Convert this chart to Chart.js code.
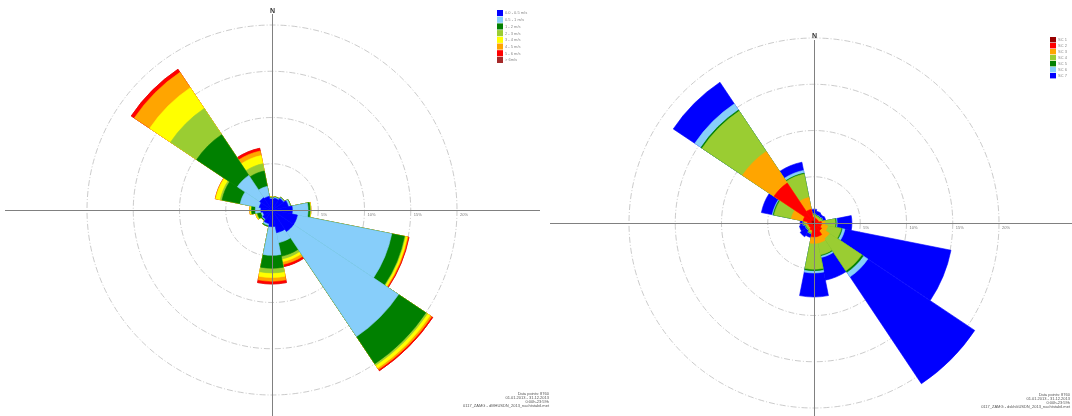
<!DOCTYPE html>
<html>
<head>
<meta charset="utf-8">
<script src="https://cdn.jsdelivr.net/npm/chart.js@4.4.1/dist/chart.umd.min.js"></script>
<style>
  html, body { margin: 0; padding: 0; background: #fff; }
  #wrap { position: relative; width: 1072px; height: 416px; overflow: hidden; }
  .box { position: absolute; top: 0; height: 416px; }
  #left { left: 0; width: 550px; }
  #right { left: 550px; width: 522px; }
</style>
</head>
<body>
<div id="wrap">
  <div class="box" id="left"><canvas id="speedRose"></canvas></div>
  <div class="box" id="right"><canvas id="stabilityRose"></canvas></div>
</div>
<script>
// 16 wind directions, clockwise from north
var directions = ['N','NNE','NE','ENE','E','ESE','SE','SSE','S','SSW','SW','WSW','W','WNW','NW','NNW'];
var ringValues = [5, 10, 15, 20];

// left rose: frequency (%) per wind speed class
var speedLabels = ['0.0 - 0.5 m/s','0.5 - 1 m/s','1 - 2 m/s','2 - 3 m/s','3 - 4 m/s','4 - 5 m/s','5 - 6 m/s','> 6m/s'];
var speedColors = ['#0000ff','#87cefa','#008000','#9acd32','#ffff00','#ffa500','#ff0000','#a52a2a'];
var speed0 = [1.2,1.3,1.5,1.8,2.2,2.8,2.8,2.5,1.8,1.5,1.2,1.0,1.2,1.4,1.6,1.5];
var speed1 = [0.1,0.1,0.1,0.2,1.7,10.4,13.65,1.1,3.1,0.2,0.1,0.2,0.6,2.1,2.9,1.1];
var speed2 = [0.05,0.05,0.05,0.05,0.2,1.4,3.55,1.5,1.4,0.1,0.1,0.4,0.4,2.0,5.3,1.7];
var speed3 = [0.05,0,0,0,0.05,0.1,0.2,0.3,0.5,0,0,0.1,0.05,0.2,3.4,0.8];
var speed4 = [0.05,0,0,0,0.05,0.2,0.35,0.3,0.5,0,0,0.1,0.15,0.5,2.7,0.9];
var speed5 = [0,0,0,0,0,0.1,0.2,0.3,0.4,0,0,0,0,0.05,2.0,0.5];
var speed6 = [0,0,0,0,0,0.1,0.15,0.25,0.3,0,0,0,0,0,0.4,0.3];
var speed7 = [0,0,0,0,0,0,0,0,0,0,0,0,0,0,0,0];

// right rose: frequency (%) per stability class
var classLabels = ['SC 1','SC 2','SC 3','SC 4','SC 5','SC 6','SC 7'];
var classColors = ['#990000','#ff0000','#ffa500','#9acd32','#008000','#87cefa','#0000ff'];
var sc1 = [0.1,0.1,0.1,0.1,0.1,0.1,0.1,0.2,0.2,0.1,0.1,0.1,0.1,0.2,0.3,0.2];
var sc2 = [0.5,0.4,0.4,0.4,0.7,0.7,0.9,1.3,1.3,0.7,0.5,0.5,0.6,1.0,4.9,1.3];
var sc3 = [0.1,0.1,0.1,0.1,0.4,0.7,1.0,0.7,0.7,0.1,0.1,0.1,0.2,1.3,4.1,1.3];
var sc4 = [0.2,0.2,0.2,0.3,1.1,1.5,4.2,1.3,2.8,0.2,0.2,0.2,0.2,1.9,5.25,2.6];
var sc5 = [0.05,0.05,0.05,0.05,0.1,0.1,0.2,0.1,0.15,0.05,0.05,0.05,0.05,0.1,0.15,0.1];
var sc6 = [0.05,0.05,0.05,0.05,0.1,0.3,0.6,0.2,0.25,0.05,0.05,0.05,0.05,0.1,0.8,0.3];
var sc7 = [0.5,0.4,0.3,0.3,1.6,11.7,13.9,2.5,2.6,0.4,0.8,0.6,0.3,1.2,2.8,0.9];

var speedFooter = ['Data points: 8760','01.01.2013 - 31.12.2013','0:00h-23:59h','0117_ZAMG - dMHUSDN_2013_nachtstabil.met'];
var classFooter = ['Data points: 8760','01.01.2013 - 31.12.2013','0:00h-23:59h','0117_ZAMG - dskhikUSDN_2013_nachtstabil.met'];

// stacked rose: every class is drawn as its running total, the inner one on top
function stackedSets(series, colors) {
  var running = directions.map(function() { return 0; });
  return series.map(function(values, k) {
    running = running.map(function(v, i) { return v + values[i]; });
    return {
      data: running.slice(),
      backgroundColor: colors[k],
      borderColor: colors[k],
      borderWidth: 0.6,
      clip: false
    };
  });
}

function roseDecor(o) {
  return {
    id: 'roseDecor',
    afterDatasetsDraw: function(chart) {
      var ctx = chart.ctx, r = chart.scales.r;
      var cx = r.xCenter, cy = r.yCenter;
      ctx.save();
      ctx.strokeStyle = '#808080';
      ctx.lineWidth = 1;
      ctx.beginPath();
      ctx.moveTo(cx - o.axisLeft, cy + 0.5); ctx.lineTo(cx + o.axisRight, cy + 0.5);
      ctx.moveTo(cx + 0.5, cy - o.axisTop); ctx.lineTo(cx + 0.5, cy + 220);
      ctx.stroke();

      ctx.fillStyle = '#333';
      ctx.font = 'bold 7px "Liberation Sans", Arial, sans-serif';
      ctx.textAlign = 'center';
      ctx.textBaseline = 'middle';
      ctx.fillText('N', cx + 0.5, cy - o.nOffset);

      ctx.fillStyle = '#777';
      ctx.font = '4px "Liberation Sans", Arial, sans-serif';
      ctx.textAlign = 'left';
      ctx.textBaseline = 'top';
      ringValues.forEach(function(v) {
        ctx.fillText(v + '%', cx + r.getDistanceFromCenterForValue(v) + 3, cy + 3);
      });

      // legend
      o.legendLabels.forEach(function(lbl, i) {
        var y = o.legendY + i * o.legendStep;
        ctx.fillStyle = o.legendColors[i];
        ctx.fillRect(o.legendX, y, 6, o.legendStep - 0.6);
        ctx.fillStyle = '#888';
        ctx.textBaseline = 'middle';
        ctx.fillText(lbl, o.legendX + 8, y + o.legendStep / 2);
      });

      // footer
      ctx.fillStyle = '#555';
      ctx.textAlign = 'right';
      ctx.textBaseline = 'middle';
      o.footer.forEach(function(line, i) {
        ctx.fillText(line, o.footerX, o.footerY + i * 4);
      });
      ctx.restore();
    }
  };
}

function drawRose(id, series, colors, pad, decor) {
  new Chart(document.getElementById(id), {
    type: 'polarArea',
    data: {
      labels: directions,
      datasets: stackedSets(series, colors)
    },
    options: {
      responsive: true,
      maintainAspectRatio: false,
      animation: false,
      events: [],
      layout: { padding: pad },
      plugins: {
        legend: { display: false },
        tooltip: { enabled: false }
      },
      scales: {
        r: {
          min: 0,
          max: 20,
          startAngle: -11.25,
          ticks: { display: false, stepSize: 5 },
          grid: { circular: true, color: '#b4b4b4', lineWidth: 0.7 },
          border: { dash: [6, 2, 1, 2] },
          angleLines: { display: false },
          pointLabels: { display: false }
        }
      }
    },
    plugins: [roseDecor(decor)]
  });
}

drawRose('speedRose',
  [speed0, speed1, speed2, speed3, speed4, speed5, speed6, speed7], speedColors,
  { left: 87, top: 25, right: 93, bottom: 21 },
  { axisLeft: 267, axisRight: 268, axisTop: 196, nOffset: 199,
    legendLabels: speedLabels, legendColors: speedColors, legendX: 497, legendY: 10, legendStep: 6.7,
    footer: speedFooter, footerX: 549, footerY: 394 });

drawRose('stabilityRose',
  [sc1, sc2, sc3, sc4, sc5, sc6, sc7], classColors,
  { left: 79, top: 38, right: 73, bottom: 8 },
  { axisLeft: 266, axisRight: 260, axisTop: 183, nOffset: 187,
    legendLabels: classLabels, legendColors: classColors, legendX: 500, legendY: 37, legendStep: 6,
    footer: classFooter, footerX: 520, footerY: 395 });
</script>
</body>
</html>
